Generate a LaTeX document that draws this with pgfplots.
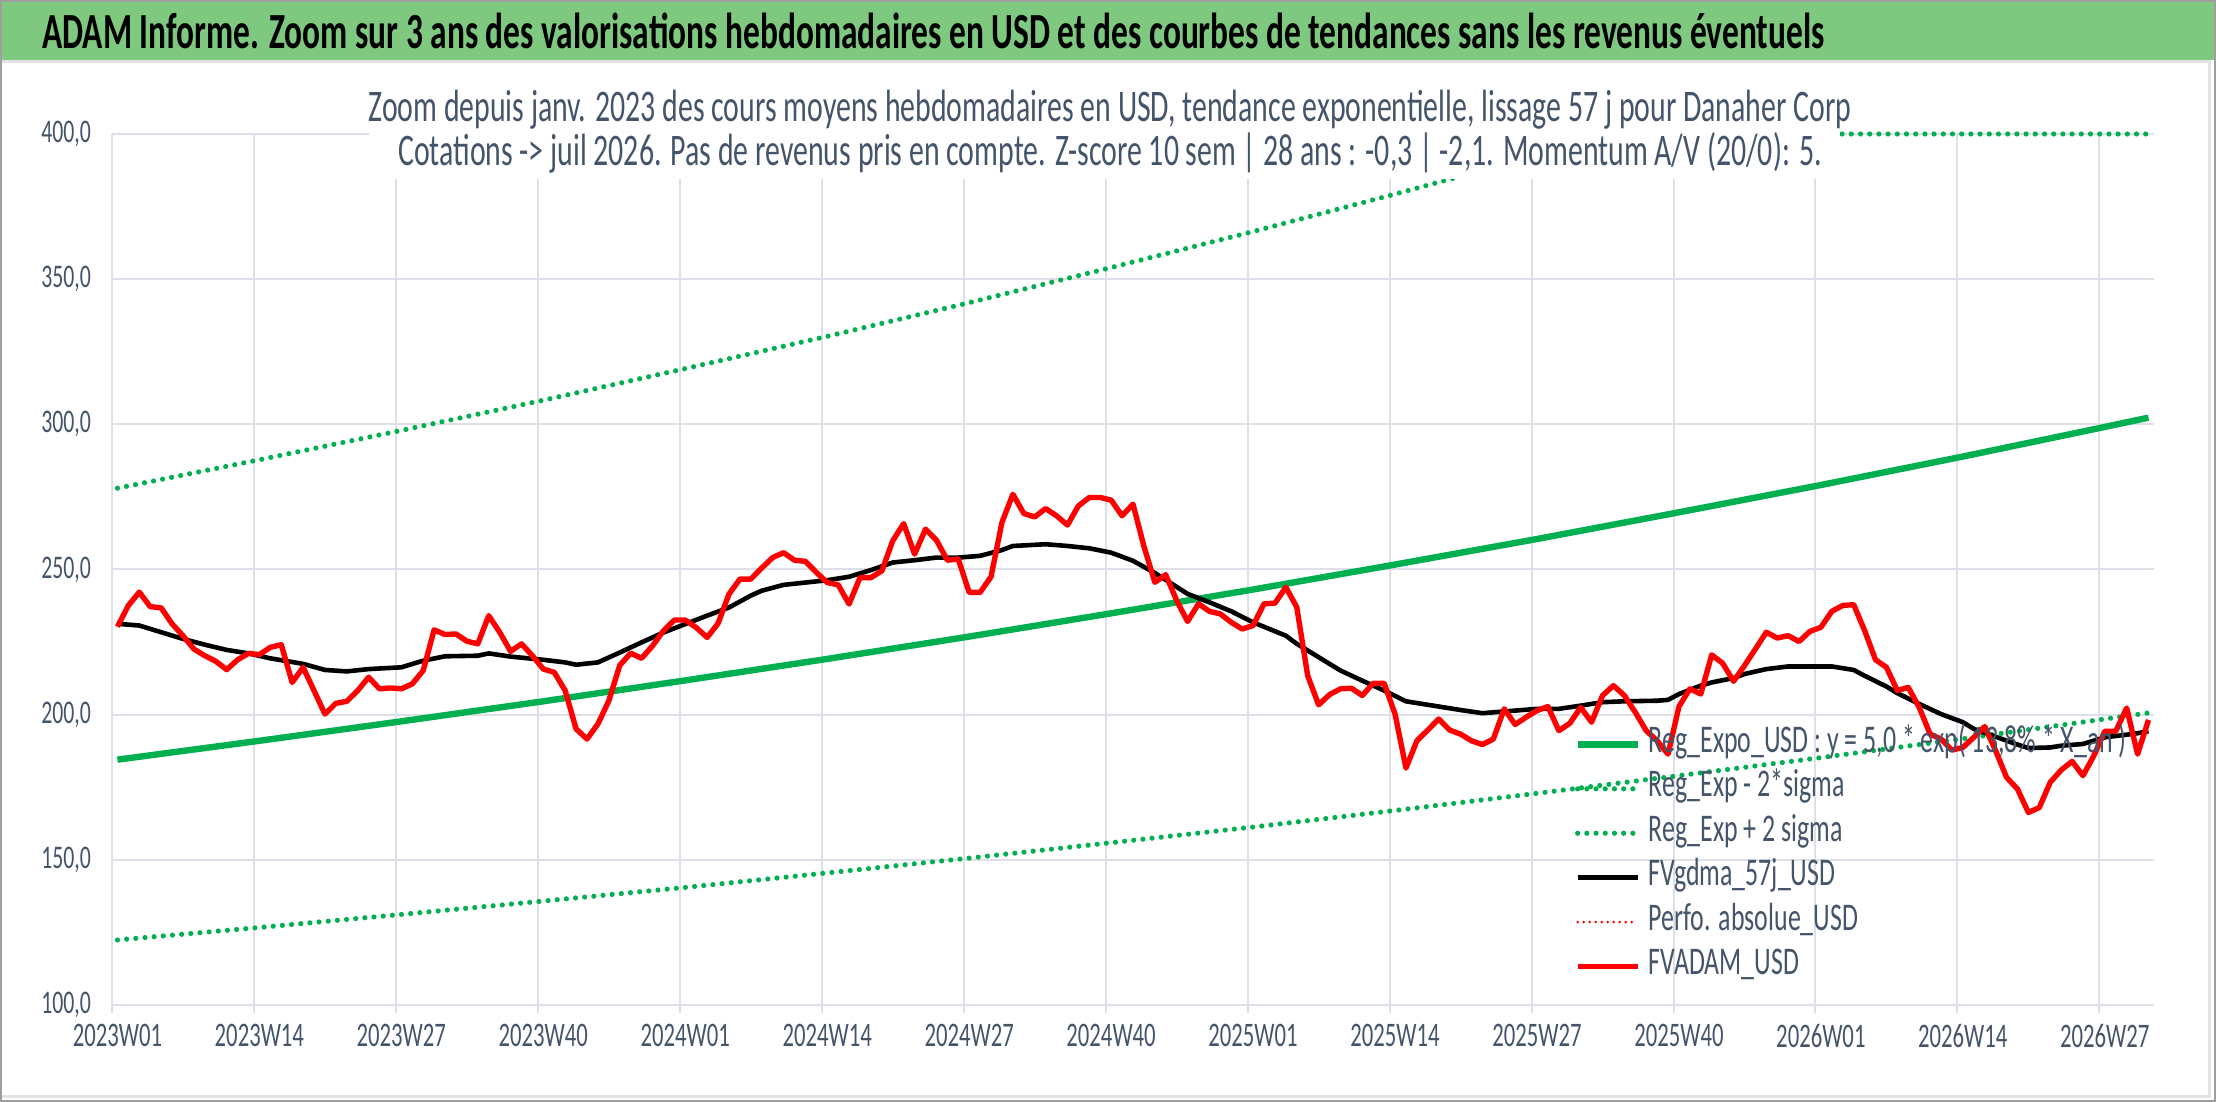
\documentclass[border=0pt]{standalone}
\usepackage{fontspec}
\setmainfont{Carlito}[FakeStretch=0.66]
\usepackage{pgfplots}
\pgfplotsset{compat=1.18}
\definecolor{tgreen}{HTML}{00B050}
\definecolor{band}{RGB}{127,200,127}
\definecolor{txt}{HTML}{44546A}
\definecolor{gridc}{HTML}{DDE1E7}

\pgfplotstableread{
x y
0.5 230.3
1.5 237.6
2.5 242.2
3.5 237.2
4.5 236.8
5.5 231.3
6.5 227.2
7.5 222.6
8.5 220.3
9.5 218.4
10.5 215.5
11.5 218.9
12.5 221.1
13.5 220.7
14.5 223.2
15.5 224.1
16.5 211.1
17.5 216.3
18.5 208.3
19.5 200.2
20.5 203.9
21.5 204.6
22.5 208.3
23.5 212.9
24.5 208.9
25.5 209.2
26.5 208.9
27.5 210.6
28.5 215.2
29.5 229.2
30.5 227.6
31.5 227.8
32.5 225.3
33.5 224.4
34.5 234.1
35.5 228.4
36.5 221.8
37.5 224.4
38.5 220.3
39.5 215.7
40.5 214.6
41.5 208.3
42.5 195.1
43.5 191.6
44.5 196.8
45.5 204.8
46.5 217.0
47.5 221.2
48.5 219.4
49.5 223.7
50.5 228.9
51.5 232.6
52.5 232.6
53.5 230.0
54.5 226.6
55.5 231.4
56.5 241.5
57.5 246.7
58.5 246.7
59.5 250.5
60.5 254.1
61.5 255.8
62.5 253.2
63.5 252.8
64.5 249.0
65.5 245.5
66.5 244.7
67.5 238.1
68.5 247.2
69.5 247.2
70.5 249.5
71.5 259.9
72.5 265.8
73.5 255.3
74.5 263.9
75.5 260.1
76.5 253.2
77.5 253.6
78.5 242.1
79.5 242.1
80.5 247.5
81.5 266.2
82.5 275.9
83.5 269.3
84.5 268.1
85.5 271.0
86.5 268.5
87.5 265.3
88.5 271.9
89.5 274.8
90.5 274.8
91.5 273.9
92.5 268.5
93.5 272.5
94.5 258.0
95.5 245.6
96.5 248.2
97.5 239.3
98.5 232.1
99.5 238.2
100.5 235.6
101.5 234.7
102.5 231.8
103.5 229.5
104.5 230.7
105.5 238.2
106.5 238.4
107.5 243.9
108.5 237.0
109.5 213.4
110.5 203.4
111.5 206.9
112.5 208.9
113.5 209.1
114.5 206.6
115.5 210.8
116.5 210.8
117.5 200.2
118.5 181.6
119.5 191.0
120.5 194.7
121.5 198.5
122.5 194.7
123.5 193.3
124.5 191.0
125.5 189.7
126.5 191.6
127.5 202.0
128.5 196.6
129.5 199.1
130.5 201.4
131.5 202.8
132.5 194.5
133.5 197.0
134.5 202.5
135.5 197.4
136.5 206.6
137.5 210.0
138.5 206.6
139.5 200.8
140.5 194.5
141.5 191.0
142.5 186.4
143.5 202.8
144.5 208.9
145.5 207.1
146.5 220.6
147.5 217.7
148.5 211.5
149.5 216.9
150.5 222.6
151.5 228.4
152.5 226.4
153.5 227.2
154.5 225.2
155.5 228.7
156.5 230.1
157.5 235.6
158.5 237.6
159.5 237.9
160.5 229.0
161.5 218.9
162.5 216.3
163.5 208.3
164.5 209.4
165.5 202.5
166.5 193.3
167.5 191.6
168.5 187.8
169.5 188.7
170.5 192.2
171.5 195.9
172.5 187.6
173.5 178.4
174.5 174.4
175.5 166.3
176.5 168.0
177.5 176.7
178.5 180.9
179.5 183.9
180.5 179.0
181.5 185.9
182.5 194.3
183.5 194.3
184.5 202.3
185.5 186.4
186.5 198.2
}\redtab

\pgfplotstableread{
x y
0.5 231.3
2.5 230.7
4.5 228.4
6.5 226.1
8.5 224.1
10.5 222.3
12.5 221.1
14.5 219.4
17.5 217.5
19.5 215.4
21.5 214.9
23.5 215.7
26.5 216.3
28.5 218.6
30.5 220.1
33.5 220.3
34.5 221.1
36.5 220.0
39.5 218.9
41.5 218.0
42.5 217.2
44.5 218.0
46.5 221.4
48.5 224.9
50.5 228.3
52.5 231.2
54.5 234.1
56.5 236.9
58.5 241.0
59.5 242.7
61.5 244.7
63.5 245.5
65.5 246.3
67.5 247.5
69.5 249.8
71.5 252.4
73.5 253.2
75.5 254.1
77.5 254.1
79.5 254.7
81.5 256.7
82.5 258.1
85.5 258.7
87.5 258.1
89.5 257.3
91.5 255.8
93.5 253.0
95.5 248.8
98.5 241.6
100.5 238.7
102.5 235.6
104.5 231.8
107.5 227.2
108.5 224.4
110.5 219.8
112.5 215.2
114.5 211.7
116.5 208.3
118.5 204.6
120.5 203.4
123.5 201.6
125.5 200.5
127.5 201.1
130.5 202.0
132.5 202.0
134.5 203.1
136.5 204.3
138.5 204.6
141.5 204.8
142.5 205.1
143.5 207.1
145.5 210.0
146.5 211.1
148.5 212.6
149.5 214.0
151.5 215.7
153.5 216.6
155.5 216.6
157.5 216.6
159.5 215.4
160.5 213.4
162.5 209.7
163.5 207.4
165.5 203.7
167.5 200.2
169.5 197.4
170.5 195.1
172.5 192.4
174.5 189.7
175.5 188.5
177.5 188.7
178.5 189.3
180.5 189.9
182.5 192.2
184.5 193.1
185.5 193.6
186.5 194.3
}\blacktab

\pgfplotstableread{
x y
0.5 184.5
13.5 191.0
26.5 197.7
39.5 204.6
52.5 211.8
65.5 219.2
78.5 226.9
91.5 234.9
104.5 243.1
117.5 251.7
130.5 260.5
143.5 269.7
156.5 279.1
169.5 288.9
182.5 299.1
186.5 302.3
}\midtab

\pgfplotstableread{
x y
0.5 122.4
13.5 126.7
26.5 131.2
39.5 135.8
52.5 140.5
65.5 145.5
78.5 150.6
91.5 155.9
104.5 161.3
117.5 167.0
130.5 172.9
143.5 179.0
156.5 185.2
169.5 191.7
182.5 198.5
186.5 200.6
}\lowtab

\pgfplotstableread{
x y
0.5 278.0
13.5 287.8
26.5 297.9
39.5 308.3
52.5 319.2
65.5 330.3
78.5 341.9
91.5 354.0
104.5 366.4
117.5 379.3
130.5 392.6
137.5 400.0
186.5 400.0
}\uptab

\begin{document}
\begin{tikzpicture}
\path[use as bounding box] (0,0) rectangle (1108pt,551pt);
\fill[white] (0,0) rectangle (1108pt,551pt);
\fill[band] (0,521pt) rectangle (1108pt,551pt);
\draw[gray!22, line width=1.5pt] (0,520pt) -- (1104.5pt,520pt) -- (1104.5pt,2.5pt) -- (0,2.5pt);
\draw[gray!75, line width=1pt] (0.5pt,0.5pt) rectangle (1107.5pt,550.5pt);
\node[anchor=west, font=\bfseries\fontsize{25.3}{27}\selectfont, text=black, inner sep=0pt] at (21pt,535.5pt)
  {ADAM Informe. Zoom sur 3 ans des valorisations hebdomadaires en USD et des courbes de tendances sans les revenus éventuels};

\begin{axis}[
  at={(56pt,48.5pt)}, anchor=south west,
  scale only axis, width=1021pt, height=435.5pt,
  xmin=0, xmax=187, ymin=100, ymax=400,
  clip=false,
  axis line style={draw=none},
  xtick={0,13,...,182},
  xticklabels={2023W01,2023W14,2023W27,2023W40,2024W01,2024W14,2024W27,2024W40,2025W01,2025W14,2025W27,2025W40,2026W01,2026W14,2026W27},
  ytick={100,150,...,400},
  tick pos=left,
  tick align=outside,
  major tick length=4pt,
  x tick style={draw=gridc, line width=1pt},
  y tick style={draw=none},
  grid=major,
  grid style={draw=gridc, line width=1pt},
  x tick label style={font=\fontsize{17.2}{19}\selectfont, text=txt, xshift=2.7pt, yshift=-2pt},
  y tick label style={font=\fontsize{16.5}{19}\selectfont, text=txt, xshift=-3pt},
  /pgf/number format/assume math mode=true,
  y tick label style={/pgf/number format/.cd, fixed, fixed zerofill, precision=1, use comma},
  legend style={at={(rel axis cs:0.716,0.318)}, anchor=north west, draw=none, fill=none,
    font=\fontsize{19.6}{22}\selectfont, text=txt, inner sep=0pt, row sep=6.2pt, column sep=4pt,
    nodes={inner sep=0pt, text height=12pt, text depth=4pt}},
  legend cell align=left,
  legend image code/.code={\draw[#1] (0pt,0pt) -- (30pt,0pt);},
  line join=round,
]
\addplot[tgreen, line width=3.2pt] table {\midtab};
\addlegendentry{Reg\_Expo\_USD : y = 5,0 * exp( 13,8\% * X\_an )}
\addplot[tgreen, line width=2.6pt, line cap=round, dash pattern=on 0pt off 4.6pt] table {\lowtab};
\addlegendentry{Reg\_Exp - 2*sigma}
\addplot[tgreen, line width=2.6pt, line cap=round, dash pattern=on 0pt off 4.6pt] table {\uptab};
\addlegendentry{Reg\_Exp + 2 sigma}
\addplot[black, line width=2.3pt] table {\blacktab};
\addlegendentry{FVgdma\_57j\_USD}
\addlegendimage{red, line width=1.4pt, line cap=round, dash pattern=on 0pt off 3pt}
\addlegendentry{Perfo. absolue\_USD}
\addplot[red, line width=2.7pt] table {\redtab};
\addlegendentry{FVADAM\_USD}
\end{axis}

\fill[white] (184.5pt,461.5pt) rectangle (920pt,519pt);
\node[font=\fontsize{22.6}{24}\selectfont, text=txt, inner sep=0pt] at (555pt,496pt)
  {Zoom depuis janv. 2023 des cours moyens hebdomadaires en USD, tendance exponentielle, lissage 57 j pour Danaher Corp};
\node[font=\fontsize{22.6}{24}\selectfont, text=txt, inner sep=0pt] at (555pt,474.5pt)
  {Cotations -> juil 2026. Pas de revenus pris en compte. Z-score 10 sem | 28 ans : -0,3 | -2,1. Momentum A/V (20/0): 5.};
\end{tikzpicture}
\end{document}
